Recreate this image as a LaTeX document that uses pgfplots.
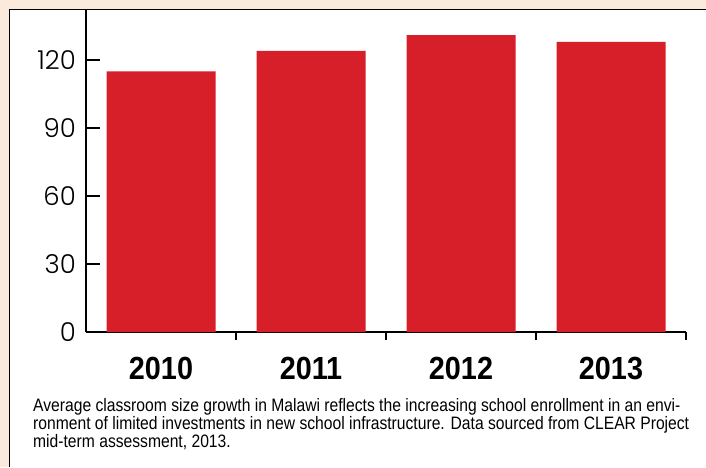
\documentclass[border=0pt]{standalone}
\usepackage{pgfplots}
\pgfplotsset{compat=1.18}
\usepackage{fontspec}
\setmainfont{Liberation Sans}
\newfontfamily\tickfont{Poppins Light}
\newfontfamily\yearfont[FakeStretch=0.9]{Liberation Sans Bold}
\newfontfamily\capfont[FakeStretch=0.87]{Liberation Sans}
\definecolor{cream}{HTML}{FBEADC}
\definecolor{barred}{HTML}{D71F29}
\begin{document}
\begin{tikzpicture}
\useasboundingbox (0pt,0pt) rectangle (706pt,467pt);
\fill[cream] (0pt,0pt) rectangle (706pt,467pt);
\fill[white] (9.5pt,0pt) rectangle (706pt,457.5pt);
\draw[black,line width=1.5pt] (9.5pt,0pt) -- (9.5pt,457.5pt) -- (706pt,457.5pt);
\begin{axis}[
  at={(161pt,135pt)}, anchor=origin,
  scale only axis, width=600pt, height=322pt,
  xmin=-0.5, xmax=3.5, ymin=0, ymax=142.06,
  axis x line*=bottom, axis y line*=left,
  axis line style={line width=2pt, black},
  tick align=inside,
  /pgf/number format/assume math mode=true,
  ytick={0,30,60,90,120},
  ytick style={line width=2pt, black, /pgfplots/major tick length=14pt},
  yticklabel style={font=\tickfont\fontsize{26}{26}\selectfont, anchor=east, inner sep=0pt, xshift=-10pt},
  xtick={0.5,1.5,2.5,3.5},
  xticklabels={2010,2011,2012,2013},
  xtick style={line width=2pt, black, /pgfplots/major tick length=8pt},
  xticklabel style={font=\yearfont\fontsize{32}{32}\selectfont, anchor=base, inner sep=0pt, xshift=-75pt, yshift=-43pt},
  ybar, bar width=109pt,
]
\addplot[fill=barred, draw=none] coordinates {(0,115) (1,124) (2,131) (3,128)};
\end{axis}
\node[anchor=base west, align=left, inner sep=0pt, font=\capfont\fontsize{18}{18}\selectfont] at (33pt,20pt)
{Average classroom size growth in Malawi reflects the increasing school enrollment in an envi-\\
ronment of limited investments in new school infrastructure. Data sourced from CLEAR Project\\
mid-term assessment, 2013.};
\end{tikzpicture}
\end{document}
